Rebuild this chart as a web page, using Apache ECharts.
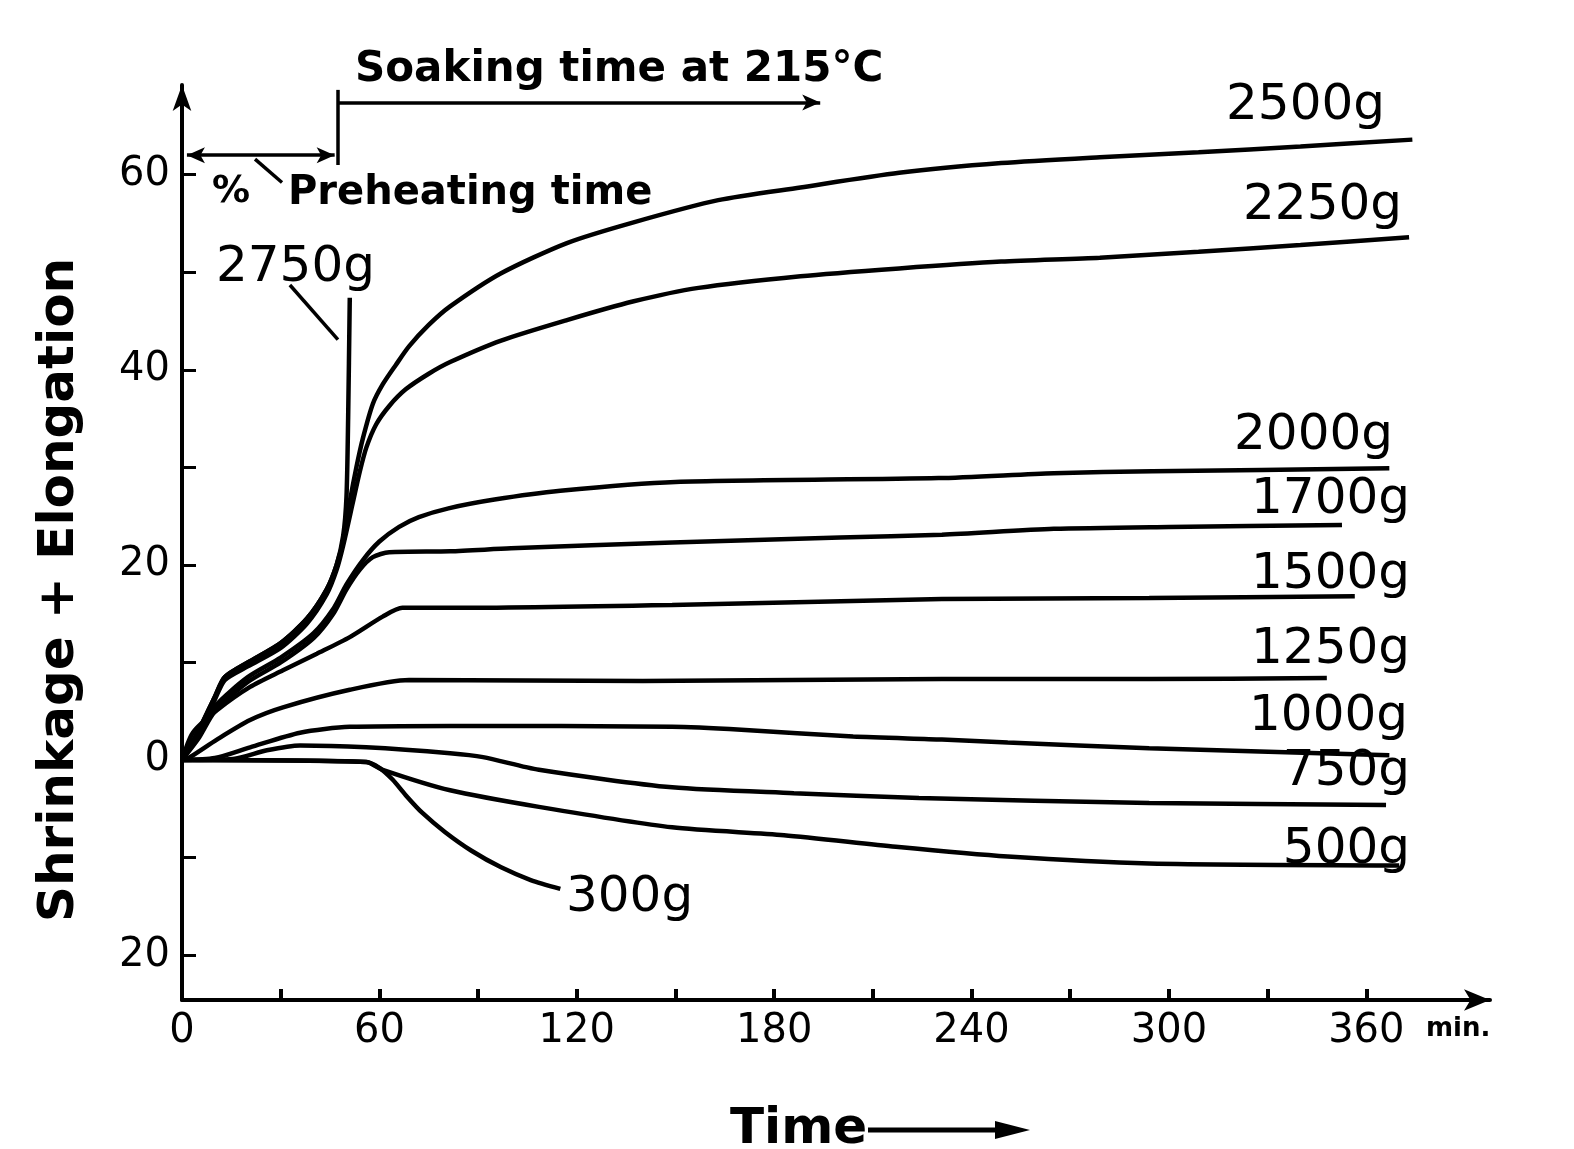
<!DOCTYPE html>
<html>
<head>
<meta charset="utf-8">
<script src="https://cdn.jsdelivr.net/npm/echarts@6/dist/echarts.min.js"></script>
<style>
html,body{margin:0;padding:0;background:#fff;}
#chart{width:1574px;height:1149px;}
</style>
</head>
<body>
<div id="chart"></div>
<script>
// ---- tick values ----
const xLabelValues = [0, 60, 120, 180, 240, 300, 360];
const xTickValues = [30, 60, 90, 120, 150, 180, 210, 240, 270, 300, 330, 360];
const yLabelValues = [60, 40, 20, 0, -20];
const yTickValues = [60, 50, 40, 30, 20, 10, 0, -10, -20];

// ---- series: [time (min), shrinkage+elongation (%)] ----
const s2750 = [[0,0],[5,3],[10,6.5],[13,8.5],[20,10],[30,12],[38,14.5],[44,17.5],[47,20],[49,23],[50,27],[50.5,35],[51,47.4]];
const s2500 = [[0,0],[5,3],[10,6.5],[13,8.5],[20,10],[30,12],[38,14.5],[44,17.5],[47,20],[49,22.5],[51,26.5],[53,30],[55,33],[58,36.5],[61,38.5],[65,40.5],[69,42.4],[75,44.6],[81.5,46.5],[97,49.9],[117,53],[137,55.1],[163,57.4],[188,58.7],[218,60.2],[249,61.2],[279,61.8],[309,62.3],[340,62.9],[374,63.6]];
const s2250 = [[0,0],[5,2.8],[10,6.2],[13,8.2],[20,9.6],[30,11.5],[38,14],[44,17],[47,19.5],[49,22],[52,26.5],[54,29.5],[56,32],[59,34.4],[63,36.3],[68,38],[75,39.6],[81.5,40.8],[97,43],[117,45.1],[137,47],[157,48.4],[188,49.6],[218,50.4],[249,51.1],[279,51.5],[309,52.1],[340,52.8],[373,53.6]];
const s2000 = [[0,0],[5,2.5],[10,5.5],[20,8.5],[30,10.5],[40,13],[46,15.5],[50,18],[55,20.5],[60,22.4],[66,23.9],[72,24.9],[81,25.8],[95,26.7],[115,27.6],[150,28.5],[230,28.9],[265,29.4],[295,29.6],[367,29.9]];
const s1700 = [[0,0],[5,2.2],[10,5],[20,8],[30,10],[40,12.5],[46,15],[50,17.5],[54,19.5],[58,20.8],[63,21.3],[81.5,21.4],[100,21.7],[149,22.3],[200,22.8],[231,23.1],[265,23.7],[300,23.9],[352.6,24.1]];
const s1500 = [[0,0],[3.3,2.8],[10.6,5.1],[20.7,7.5],[30.7,9.2],[41,10.9],[51,12.6],[61,14.7],[67,15.6],[81.5,15.6],[149,15.9],[231,16.5],[294,16.6],[356.5,16.8]];
const s1250 = [[0,0],[2.4,0.3],[10.6,2.1],[20.7,4.1],[30.7,5.4],[51,7.2],[69,8.2],[140,8.1],[231,8.3],[294,8.3],[348,8.4]];
const s1000 = [[0,0],[10,0.2],[20.7,1.3],[35.9,2.8],[51,3.4],[81.5,3.5],[149,3.4],[170,3.1],[204,2.4],[231,2.1],[251,1.8],[294,1.2],[367,0.5]];
const s750  = [[0,0],[15.5,0.1],[25.8,1.0],[35.9,1.5],[56,1.3],[81.5,0.7],[91.5,0.3],[108.5,-1.0],[149,-2.8],[186,-3.4],[224,-3.9],[294,-4.4],[366,-4.6]];
const s500  = [[0,0],[56,-0.2],[61,-1.0],[81.5,-3.1],[108.5,-4.8],[149,-6.9],[183,-7.7],[217,-8.9],[251,-9.9],[294,-10.6],[370,-10.8]];
const s300  = [[0,0],[56,-0.2],[60,-0.8],[64,-2],[68,-3.6],[73,-5.4],[80,-7.4],[88,-9.3],[97,-11],[106,-12.3],[115,-13.2]];

const seriesNames = ['2750g','2500g','2250g','2000g','1700g','1500g','1250g','1000g','750g','500g','300g'];
const seriesData = [s2750,s2500,s2250,s2000,s1700,s1500,s1250,s1000,s750,s500,s300];

// ---- annotation geometry (data coordinates) ----
const preheatEnd = 47.4;      // min
const preheatLevel = 62.0;    // bracket height
const soakLevel = 67.4;
const soakEnd = 194;
const leader2750 = [[32.8,48.7],[47.4,43.1]];
const leaderPreheat = [[22.2,61.6],[30.4,59.2]];

const FONT = 'DejaVu Sans';
const chart = echarts.init(document.getElementById('chart'));

const lineSeries = seriesNames.map((n, i) => ({
  name: n, type: 'line', data: seriesData[i], smooth: 0.25,
  showSymbol: false, symbol: 'none', silent: true,
  lineStyle: {color: '#000', width: 4.5}, z: 3
}));

const annot = {
  type: 'line', data: [], silent: true, symbol: 'none',
  markLine: {
    silent: true, animation: false,
    label: {show: false},
    lineStyle: {color: '#000', width: 3.5, type: 'solid'},
    symbolSize: [12, 18],
    data: [
      [{coord: [1.5, preheatLevel], symbol: 'arrow'}, {coord: [preheatEnd - 1, preheatLevel], symbol: 'arrow'}],
      [{coord: [preheatEnd, preheatLevel - 1], symbol: 'none'}, {coord: [preheatEnd, soakLevel + 1.3], symbol: 'none'}],
      [{coord: [preheatEnd, soakLevel], symbol: 'none'}, {coord: [soakEnd, soakLevel], symbol: 'arrow'}],
      [{coord: leader2750[0], symbol: 'none'}, {coord: leader2750[1], symbol: 'none'}],
      [{coord: leaderPreheat[0], symbol: 'none'}, {coord: leaderPreheat[1], symbol: 'none'}]
    ]
  }
};

function txt(x, y, text, size, align, weight) {
  return {type: 'text', x: x, y: y, silent: true, z: 10,
    style: {text: text, fontFamily: FONT, fontSize: size, fontWeight: weight || 'normal',
      fill: '#000', align: align || 'left', verticalAlign: 'middle'}};
}

const curveLabels = [
  txt(1385, 106, '2500g', 50, 'right'),
  txt(1402, 206, '2250g', 50, 'right'),
  txt(1393, 436, '2000g', 50, 'right'),
  txt(1410, 500, '1700g', 50, 'right'),
  txt(1410, 575, '1500g', 50, 'right'),
  txt(1410, 650, '1250g', 50, 'right'),
  txt(1408, 717, '1000g', 50, 'right'),
  txt(1410, 772, '750g', 50, 'right'),
  txt(1410, 850, '500g', 50, 'right'),
  txt(566, 898, '300g', 50, 'left'),
  txt(216, 268, '2750g', 50, 'left')
];

const option = {
  backgroundColor: '#fff',
  animation: false,
  grid: {left: 182, right: 84, top: 85, bottom: 149, containLabel: false},
  xAxis: {
    type: 'value', min: 0, max: 397.6,
    splitLine: {show: false},
    axisLine: {onZero: false, lineStyle: {color: '#000', width: 4}, symbol: ['none', 'arrow'], symbolSize: [16, 26]},
    axisTick: {show: true, inside: true, length: 11, lineStyle: {color: '#000', width: 4}, customValues: xTickValues},
    axisLabel: {color: '#000', fontFamily: FONT, fontSize: 40, margin: 12, customValues: xLabelValues,
      formatter: v => String(v)}
  },
  yAxis: {
    type: 'value', min: -24.6, max: 69.2,
    splitLine: {show: false},
    axisLine: {onZero: false, lineStyle: {color: '#000', width: 4}, symbol: ['none', 'arrow'], symbolSize: [14, 26]},
    axisTick: {show: true, inside: true, length: 14, lineStyle: {color: '#000', width: 3}, customValues: yTickValues},
    axisLabel: {color: '#000', fontFamily: FONT, fontSize: 40, margin: 12, customValues: yLabelValues,
      formatter: v => String(Math.abs(v))}
  },
  graphic: [
    txt(355, 70, 'Soaking time at 215°C', 42, 'left', 'bold'),
    txt(212, 192, '%', 38, 'left', 'bold'),
    txt(288, 194, 'Preheating time', 40, 'left', 'bold'),
    txt(1426, 1029, 'min.', 26, 'left', 'bold'),
    {type: 'text', x: 60, y: 590, rotation: Math.PI / 2, silent: true,
      style: {text: 'Shrinkage + Elongation', fontFamily: FONT, fontSize: 50, fontWeight: 'bold',
        fill: '#000', align: 'center', verticalAlign: 'middle'}},
    txt(730, 1130, 'Time', 50, 'left', 'bold'),
    {type: 'line', silent: true, shape: {x1: 868, y1: 1130, x2: 1000, y2: 1130}, style: {stroke: '#000', lineWidth: 5}},
    {type: 'polygon', silent: true, shape: {points: [[995, 1121], [1030, 1130], [995, 1139]]}, style: {fill: '#000'}},
    ...curveLabels
  ],
  series: [...lineSeries, annot]
};
chart.setOption(option);
</script>
</body>
</html>
